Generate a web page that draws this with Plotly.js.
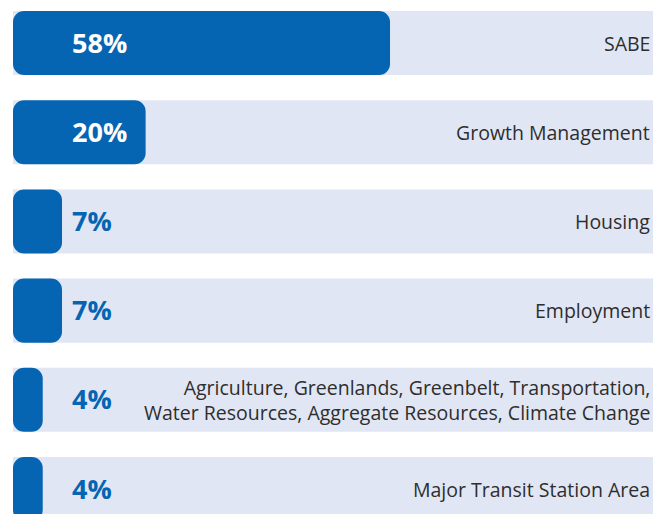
<!DOCTYPE html>
<html>
<head>
<meta charset="utf-8">
<script src="https://cdn.plot.ly/plotly-3.0.1.min.js"></script>
<style>html,body{margin:0;padding:0;background:#fff;}#chart{width:653px;height:514px;}</style>
</head>
<body>
<div id="chart"></div>
<script>
// Data
var categories = [
  "SABE",
  "Growth Management",
  "Housing",
  "Employment",
  "Agriculture, Greenlands, Greenbelt, Transportation,<br>Water Resources, Aggregate Resources, Climate Change",
  "Major Transit Station Area"
];
var values = [58, 20, 7, 7, 4, 4];
var valueLabels = ["58%", "20%", "7%", "7%", "4%", "4%"];
var fullScale = [100, 100, 100, 100, 100, 100];

var BLUE = "#0565b2";
var LIGHT = "#e1e6f4";
var TEXT = "#2e2e2e";
var zeros = values.map(function () { return 0; });

var traces = [
  {
    type: "bar", orientation: "h", y: categories, x: fullScale, base: zeros,
    marker: { color: LIGHT, line: { width: 4, color: LIGHT } },
    hoverinfo: "skip", showlegend: false
  },
  {
    type: "bar", orientation: "h", y: categories, x: values, base: zeros,
    marker: { color: BLUE, line: { width: 4, color: BLUE }, cornerradius: 9 },
    hoverinfo: "skip", showlegend: false
  }
];

var annotations = [];
categories.forEach(function (c, i) {
  annotations.push({
    xref: "paper", yref: "y", x: 0.0922, xshift: -2, y: c, yshift: 1, xanchor: "left", yanchor: "middle",
    text: "<b>" + valueLabels[i] + "</b>", showarrow: false,
    font: { family: "'Open Sans', sans-serif", size: 27, color: values[i] >= 15 ? "#ffffff" : BLUE }
  });
  annotations.push({
    xref: "paper", yref: "y", x: 1, xshift: -1, y: c, xanchor: "right", yanchor: "middle",
    align: "right", text: c, showarrow: false,
    font: { family: "'Open Sans', sans-serif", size: 19.5, color: TEXT }
  });
});

var layout = {
  width: 653, height: 514,
  margin: { l: 13, r: 0, t: 0, b: 0, pad: 0 },
  paper_bgcolor: "#ffffff", plot_bgcolor: "#ffffff",
  barmode: "overlay", bargap: 0.327,
  xaxis: { range: [-0.311, 99.2], showgrid: false, zeroline: false, showticklabels: false, ticks: "", fixedrange: true },
  yaxis: { type: "category", range: [5.28, -0.482], autorange: false, showgrid: false, zeroline: false,
           showticklabels: false, ticks: "", fixedrange: true },
  annotations: annotations,
  showlegend: false
};

Plotly.newPlot("chart", traces, layout, { displayModeBar: false, staticPlot: true });
</script>
</body>
</html>
